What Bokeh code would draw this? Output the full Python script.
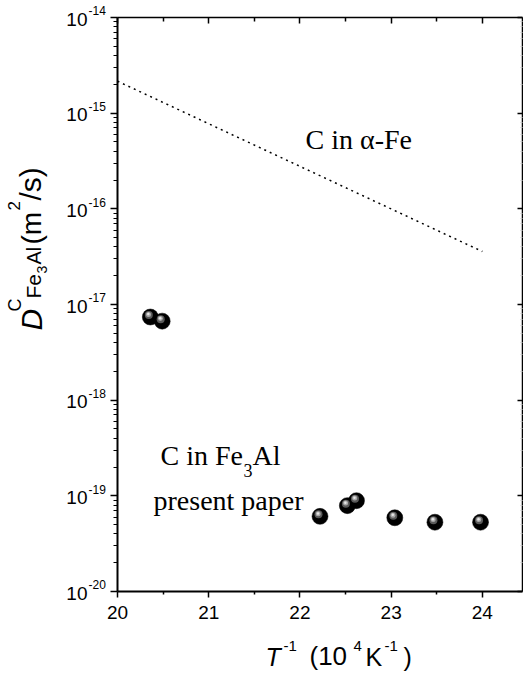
import math
from bokeh.plotting import figure
from bokeh.models import (FixedTicker, LinearAxis, LogAxis, Label,
                          CustomJSTickFormatter, Range1d)
from bokeh.core.properties import value
from bokeh.embed import file_html
from bokeh.resources import INLINE

# ---------------- data ----------------
t_inv_fe3al = [20.36, 20.49, 22.22, 22.52, 22.62, 23.04, 23.48, 23.98]
d_fe3al = [7.4e-18, 6.7e-18, 6.1e-20, 7.9e-20, 8.9e-20, 5.9e-20, 5.3e-20, 5.3e-20]

t_inv_alpha_fe = [20.0, 24.0]
d_alpha_fe = [2.16e-15, 3.58e-17]

x_major_ticks = [20, 21, 22, 23, 24]
x_minor_ticks = [20.5, 21.5, 22.5, 23.5]
y_decades = [-20, -19, -18, -17, -16, -15, -14]

# ---------------- geometry (page pixels) ----------------
X_LO, X_HI = 20.0, 24.44
LOG_LO, LOG_HI = -20.0, -14.0
FRAME_L, FRAME_T, FRAME_W, FRAME_H = 117, 17, 405, 574
PAGE_W, PAGE_H = 523, 676
SANS = "Liberation Sans"
SERIF = "Liberation Serif"
K_BASE = 0.36   # empirical baseline correction (fraction of font size)


def px2x(px):
    return X_LO + (px - FRAME_L) * (X_HI - X_LO) / FRAME_W


def py2y(py):
    return 10 ** (LOG_HI - (py - FRAME_T) * (LOG_HI - LOG_LO) / FRAME_H)


def tick_py(e):
    return FRAME_T + (LOG_HI - e) * FRAME_H / (LOG_HI - LOG_LO)


def shift_x(xs, dpx):
    return [x + dpx * (X_HI - X_LO) / FRAME_W for x in xs]


def shift_y(ys, dpy):
    return [y * 10 ** (-dpy * (LOG_HI - LOG_LO) / FRAME_H) for y in ys]


p = figure(width=PAGE_W, height=PAGE_H,
           x_range=Range1d(px2x(0), px2x(PAGE_W)),
           y_range=Range1d(py2y(PAGE_H), py2y(0)),
           y_axis_type="log", x_axis_location=None, y_axis_location=None,
           output_backend="svg", toolbar_location=None, min_border=0,
           background_fill_color="white", border_fill_color="white")
p.xgrid.visible = False
p.ygrid.visible = False
p.outline_line_color = None

Y_LO, Y_HI = 10.0 ** LOG_LO, 10.0 ** LOG_HI
y_major = [10.0 ** e for e in y_decades]
y_minor = [k * 10.0 ** e for e in y_decades[:-1] for k in range(2, 10)]
yticker = FixedTicker(ticks=y_major, minor_ticks=y_minor)
xticker = FixedTicker(ticks=x_major_ticks, minor_ticks=x_minor_ticks)
blank = CustomJSTickFormatter(code="return '';")

bottom = LinearAxis(ticker=xticker, fixed_location=Y_LO, bounds=(X_LO, X_HI),
                    axis_line_width=2, axis_line_color="black",
                    major_tick_out=6, major_tick_in=0, minor_tick_out=3, minor_tick_in=0,
                    major_tick_line_width=1.5, minor_tick_line_width=1.5,
                    major_tick_line_color="black", minor_tick_line_color="black",
                    major_label_text_font=SANS, major_label_text_font_size="19px",
                    major_label_text_color="black", major_label_standoff=8)
p.add_layout(bottom, "below")

left = LogAxis(ticker=yticker, formatter=blank, fixed_location=X_LO, bounds=(Y_LO, Y_HI),
               axis_line_width=2, axis_line_color="black",
               major_tick_out=7, major_tick_in=0, minor_tick_out=4, minor_tick_in=0,
               major_tick_line_width=1.5, minor_tick_line_width=1.2,
               major_tick_line_color="black", minor_tick_line_color="black",
               major_label_standoff=0, major_label_text_font_size="0px")
p.add_layout(left, "left")

top = LinearAxis(ticker=xticker, formatter=blank, fixed_location=Y_HI, bounds=(X_LO, X_HI),
                 axis_line_width=1.5, axis_line_color="black",
                 major_tick_in=6, major_tick_out=0, minor_tick_in=4, minor_tick_out=0,
                 major_tick_line_width=1.5, minor_tick_line_width=1.5,
                 major_label_standoff=0, major_label_text_font_size="0px")
p.add_layout(top, "above")

right = LogAxis(ticker=yticker, formatter=blank, fixed_location=X_HI, bounds=(Y_LO, Y_HI),
                axis_line_width=1.5, axis_line_color="black",
                major_tick_in=5, major_tick_out=0, minor_tick_in=2, minor_tick_out=0,
                major_tick_line_width=1.5, minor_tick_line_width=1,
                minor_tick_line_color="#c8c8c8",
                major_label_standoff=0, major_label_text_font_size="0px")
p.add_layout(right, "right")

# ---------------- marks ----------------
p.line(t_inv_alpha_fe, d_alpha_fe, line_color="black", line_width=1.5,
       line_dash="2 4")

p.scatter(t_inv_fe3al, d_fe3al, size=16, fill_color="black", line_color="black",
          line_width=0.5)
p.scatter(shift_x(t_inv_fe3al, -1.5), shift_y(d_fe3al, -2.0), size=8,
          fill_color="#5a5a5a", line_color=None)
p.scatter(shift_x(t_inv_fe3al, -1.8), shift_y(d_fe3al, -2.6), size=5,
          fill_color="#a8a8a8", line_color=None)
p.scatter(shift_x(t_inv_fe3al, -2.0), shift_y(d_fe3al, -2.9), size=2.5,
          fill_color="#e6e6e6", line_color=None)

# y tick labels 10^n
p.text(x=[px2x(87)] * len(y_decades),
       y=[py2y(tick_py(e) + 8.5 - K_BASE * 19) for e in y_decades],
       text=["10"] * len(y_decades), text_font=value(SANS), text_font_size=value("19px"),
       text_align="right", text_baseline="alphabetic", text_color="black")
p.text(x=[px2x(88)] * len(y_decades),
       y=[py2y(tick_py(e) - 2.5 - K_BASE * 12) for e in y_decades],
       text=[str(e) for e in y_decades], text_font=value(SANS), text_font_size=value("12px"),
       text_align="left", text_baseline="alphabetic", text_color="black")


def put(text, px, py, size, font=SANS, style="normal", rotated=False):
    if rotated:
        px = px - K_BASE * size
    else:
        py = py - K_BASE * size
    p.add_layout(Label(x=px2x(px), y=py2y(py), text=text, text_font=font,
                       text_font_size=f"{size}px", text_font_style=style,
                       text_align="left", text_baseline="alphabetic",
                       text_color="black", angle=math.pi / 2 if rotated else 0.0))


# annotations
put("C in \u03b1-Fe", 305, 149, 28, font=SERIF)
put("C in Fe", 160, 465, 28, font=SERIF)
put("3", 243, 476, 18, font=SERIF)
put("Al", 252, 465, 28, font=SERIF)
put("present paper", 153, 510, 28, font=SERIF)

# x axis title: T^-1 (10^4 K^-1)
put("T", 265, 665, 25, style="italic")
put("-1", 283, 651, 15)
put("(10", 309, 665, 26)
put("4", 353, 651, 15)
put("K", 365, 665, 25)
put("-1", 384, 651, 15)
put(")", 403, 665, 25)

# y axis title: D^C_{Fe3Al} (m^2/s), rotated
put("D", 42, 330, 30, style="italic", rotated=True)
put("C", 21, 311, 18, rotated=True)
put("Fe", 41, 298, 21, rotated=True)
put("3", 47, 273, 14, rotated=True)
put("Al", 41, 264, 20, rotated=True)
put("(m", 41, 244, 28, rotated=True)
put("2", 20, 210, 17, rotated=True)
put("/s)", 41, 200, 30, rotated=True)

open("out.html", "w").write(file_html(p, INLINE))
